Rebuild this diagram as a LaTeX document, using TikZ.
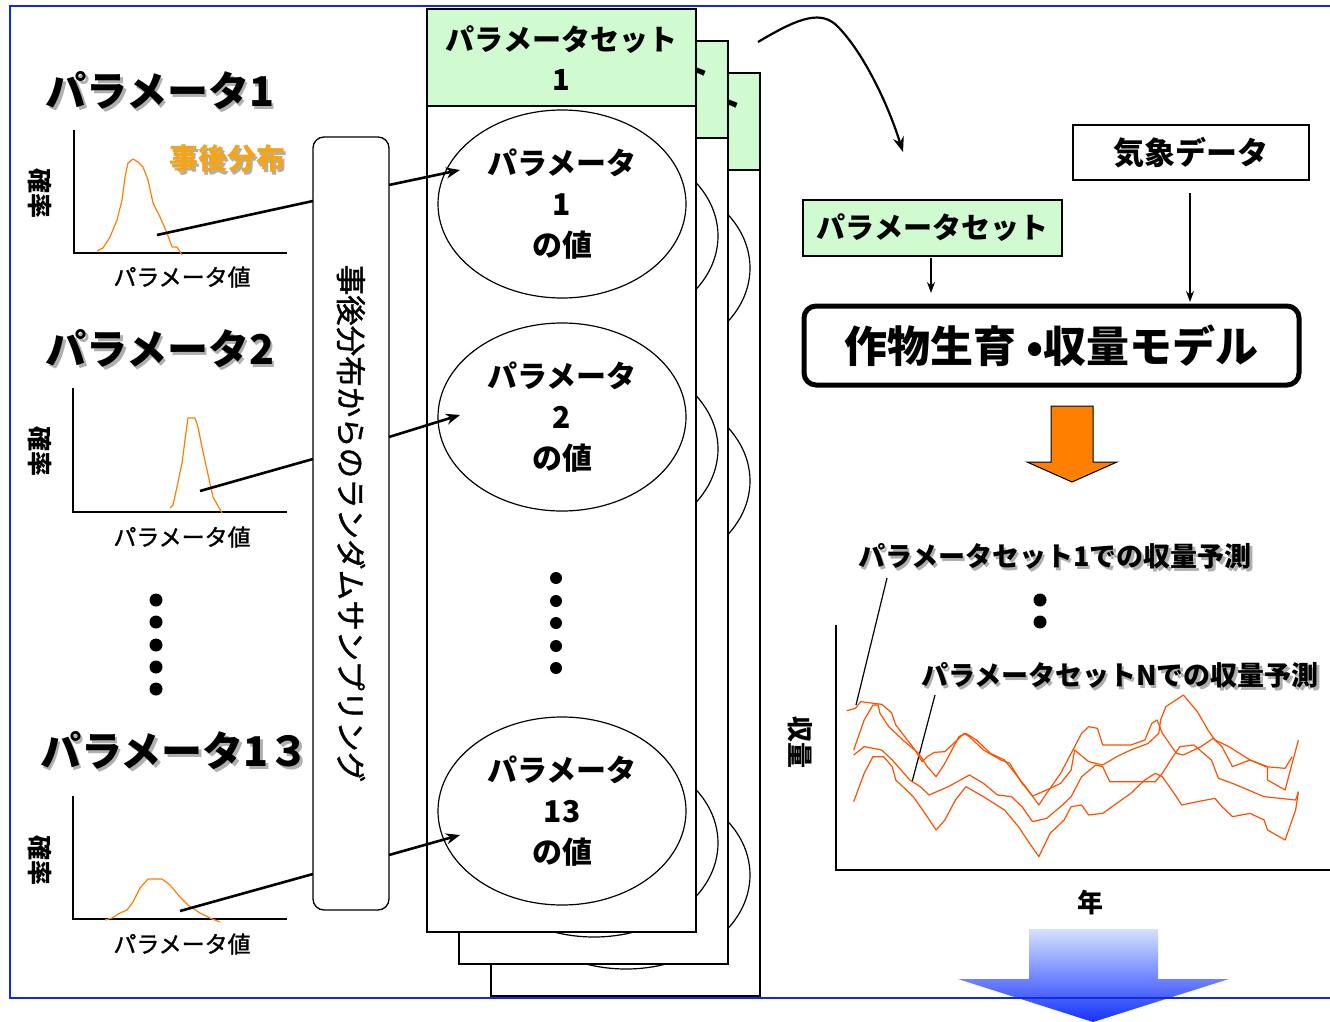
\documentclass[tikz,border=0pt]{standalone}
\usepackage{fontspec}
\setmainfont{Noto Sans CJK JP}
\newfontfamily\medfont{Noto Sans CJK JP}[FakeBold=1.3]
\usetikzlibrary{shapes.geometric,arrows.meta,calc}
\definecolor{frameblue}{RGB}{20,40,220}
\definecolor{hdrgreen}{RGB}{208,250,208}
\definecolor{distorange}{RGB}{255,128,0}
\definecolor{yieldorange}{RGB}{255,80,0}
\definecolor{labelorange}{RGB}{245,165,20}
\definecolor{shadowgray}{RGB}{175,175,175}
\definecolor{arrowtop}{RGB}{215,225,255}
\definecolor{arrowbot}{RGB}{20,50,255}
\newcommand\shtext[2]{\makebox[0pt][l]{\hspace{2.5pt}\raisebox{-2.5pt}{\textcolor{shadowgray}{#2}}}\textcolor{#1}{#2}}
\begin{document}
\begin{tikzpicture}[x=1pt,y=-1pt,
  every node/.style={inner sep=0pt,outer sep=0pt},
  bigtitle/.style={font=\fontsize{41}{48}\selectfont\bfseries},
  axislabel/.style={font=\fontsize{23}{26}\selectfont\medfont},
  problabel/.style={font=\fontsize{25}{28}\selectfont\bfseries,rotate=-90},
  axisline/.style={line width=1.3pt},
  distcurve/.style={distorange,line width=1.2pt,line join=round},
  leader/.style={line width=2.6pt},
  samparrow/.style={line width=2.6pt,-{Stealth[length=14pt,width=11pt]}},
  sheet/.style={draw,line width=1.4pt,fill=white},
  hdr/.style={draw,line width=1.4pt,fill=hdrgreen},
  hdrtext/.style={font=\fontsize{29}{40}\selectfont\bfseries},
  valell/.style={ellipse,draw,line width=1.2pt,fill=white,minimum width=248pt,minimum height=188pt,align=center,font=\fontsize{30}{41}\selectfont\bfseries},
  bigdot/.style={circle,fill=black,minimum size=13pt},
  plainbox/.style={draw,line width=1.2pt,fill=white},
  smallarrow/.style={line width=1.5pt,-{Stealth[length=11pt,width=8pt]}},
  yieldcurve/.style={yieldorange,line width=1.2pt,line join=round},
]
\useasboundingbox (0,0) rectangle (1330,1022);
\fill[white] (0,0) rectangle (1330,1022);

% ---------- left: parameter distributions ----------
\node[bigtitle] (t1) at (160,92) {\shtext{black}{パラメータ1}};
\draw[axisline] (74,130) -- (74,253) -- (287,253);
\draw[distcurve] (97,251) -- (103,248) -- (110,237) -- (117,220) -- (122,200) -- (125,177) -- (128,163) -- (133,159) -- (138,162) -- (143,167) -- (148,180) -- (153,203) -- (160,217) -- (167,233) -- (172,247) -- (177,247) -- (182,255);
\node[problabel] (p1) at (40,193) {確率};
\node[axislabel] (x1) at (182,277) {パラメータ値};
\node[font=\fontsize{29}{32}\selectfont\bfseries] (post) at (227,160) {\shtext{labelorange}{事後分布}};

\node[bigtitle] (t2) at (160,350) {\shtext{black}{パラメータ2}};
\draw[axisline] (73,388) -- (73,512) -- (287,512);
\draw[distcurve] (170,508) -- (173,505) -- (177,487) -- (182,463) -- (185,440) -- (188,418) -- (195,418) -- (198,427) -- (202,447) -- (207,470) -- (213,497) -- (222,513);
\node[problabel] (p2) at (40,451) {確率};
\node[axislabel] (x2) at (182,537) {パラメータ値};

\foreach \yy/\nm in {600/d1,622/d2,645/d3,667/d4,689/d5}
  \node[bigdot] (l\nm) at (156,\yy) {};

\node[bigtitle] (t3) at (175,752) {\shtext{black}{パラメータ1３}};
\draw[axisline] (73,796) -- (73,919) -- (287,919);
\draw[distcurve] (105,920) -- (112,918) -- (120,913) -- (127,910) -- (133,902) -- (140,888) -- (148,879) -- (162,879) -- (170,885) -- (180,897) -- (188,905) -- (200,913) -- (210,918) -- (220,922);
\node[problabel] (p3) at (40,860) {確率};
\node[axislabel] (x3) at (182,944) {パラメータ値};

% ---------- sampling box ----------
\node[draw,line width=1.3pt,fill=white,rounded corners=11pt,rotate=-90,minimum width=773pt,minimum height=76pt,font=\fontsize{30.5}{34}\selectfont\medfont] (samp) at (351,523.5) {事後分布からのランダムサンプリング};

\coordinate (c1a) at (157,235); \coordinate (c1b) at (313,201);
\coordinate (c2a) at (200,491); \coordinate (c2b) at (313,459);
\coordinate (c3a) at (180,911); \coordinate (c3b) at (313,874);
\draw[leader] (c1a) -- (c1b);
\draw[leader] (c2a) -- (c2b);
\draw[leader] (c3a) -- (c3b);

% ---------- stacked parameter sets (back sheets) ----------
\foreach \i in {2,1}{
  \pgfmathsetmacro{\d}{32*\i}
  \draw[sheet] (427+\d,9+\d) rectangle (696+\d,932+\d);
  \draw[hdr] (427+\d,9+\d) rectangle (696+\d,106+\d);
  \node[hdrtext] (hd\i) at (663+\d,40+\d) {ト};
  \node[valell] (ea\i) at (562+\d,204+\d) {};
  \node[valell] (eb\i) at (562+\d,417+\d) {};
  \node[valell] (ec\i) at (562+\d,811+\d) {};
}
% ---------- front sheet ----------
\draw[sheet] (427,9) rectangle (696,932);
\draw[hdr] (427,9) rectangle (696,106);
\node[hdrtext,align=center] (hd0) at (561.5,58) {パラメータセット\\1};
\node[valell] (ea0) at (562,204) {パラメータ\\1\\の値};
\node[valell] (eb0) at (562,417) {パラメータ\\2\\の値};
\node[valell] (ec0) at (562,811) {パラメータ\\13\\の値};
\foreach \yy/\nm in {578/m1,601/m2,623/m3,646/m4,668/m5}
  \node[bigdot,minimum size=12pt] (\nm) at (556,\yy) {};

\coordinate (s1) at (389,185); \coordinate (e1) at (460,170);
\coordinate (s2) at (389,437); \coordinate (e2) at (460,415);
\coordinate (s3) at (389,855); \coordinate (e3) at (460,835);
\draw[samparrow] (s1) -- (e1);
\draw[samparrow] (s2) -- (e2);
\draw[samparrow] (s3) -- (e3);

% ---------- curved arrow to right side ----------
\coordinate (cs) at (758,42);
\coordinate (ce) at (903,152);
\draw[line width=2.2pt,-{Stealth[length=15pt,width=11pt]}] (cs) .. controls (795,20) and (818,10) .. (835,24) .. controls (858,45) and (885,95) .. (ce);

% ---------- model part ----------
\node[plainbox,minimum width=236pt,minimum height=55pt,font=\fontsize{31}{34}\selectfont\bfseries] (wx) at (1191,152.5) {気象データ};
\node[draw,line width=1.2pt,fill=hdrgreen,minimum width=259pt,minimum height=56pt,font=\fontsize{29}{32}\selectfont\bfseries] (ps) at (932.5,228) {パラメータセット};
\node[draw,line width=5pt,fill=white,rounded corners=12pt,minimum width=495pt,minimum height=79pt,font=\fontsize{43}{48}\selectfont\bfseries] (model) at (1051.5,345.5) {作物生育 •収量モデル};
\coordinate (pa) at (931,258); \coordinate (pb) at (931,293);
\coordinate (wa) at (1190,193); \coordinate (wb) at (1190,302);
\draw[smallarrow] (pa) -- (pb);
\draw[smallarrow] (wa) -- (wb);

\draw[line width=1pt,fill=distorange] (1051,406) -- (1093,406) -- (1093,462) -- (1117,462) -- (1072,482) -- (1027,462) -- (1051,462) -- cycle;

% ---------- yield chart ----------
\draw[axisline] (836,625) -- (836,870) -- (1335,870);
\node[font=\fontsize{26}{30}\selectfont\bfseries,rotate=-90] (ylab) at (800,742) {収量};
\node[font=\fontsize{26}{30}\selectfont\bfseries] (xlab) at (1090,903) {年};
\node[font=\fontsize{27}{30}\selectfont\bfseries] (lab1) at (1055,558) {\shtext{black}{パラメータセット1での収量予測}};
\node[font=\fontsize{27}{30}\selectfont\bfseries] (labN) at (1120,677) {\shtext{black}{パラメータセットNでの収量予測}};
\node[bigdot] (rd1) at (1040,600) {};
\node[bigdot] (rd2) at (1040,622) {};
\coordinate (la1) at (887,578); \coordinate (lb1) at (856,705);
\coordinate (laN) at (935,695); \coordinate (lbN) at (912,782);
\draw[line width=1.2pt] (la1) -- (lb1);
\draw[line width=1.2pt] (laN) -- (lbN);

\begin{scope}[shift={(780,520)},x=0.35075pt,y=-0.33333pt]
\draw[yieldcurve] (190,572) -- (215,565) -- (230,545) -- (290,553) -- (318,578) -- (330,615) -- (385,690) -- (405,725) -- (420,710) -- (440,697) -- (470,695) -- (500,665) -- (525,640) -- (540,650) -- (580,690) -- (630,720) -- (655,730) -- (690,790) -- (720,828) -- (760,810) -- (800,790) -- (830,750) -- (840,690) -- (880,725) -- (920,735) -- (960,710) -- (1000,690) -- (1050,670) -- (1080,640) -- (1085,600) -- (1100,560) -- (1150,525) -- (1190,575) -- (1220,630) -- (1240,660) -- (1280,680) -- (1310,700) -- (1340,720) -- (1390,740) -- (1390,780) -- (1440,810) -- (1460,730) -- (1478,660);
\draw[yieldcurve] (210,690) -- (240,600) -- (265,555) -- (280,555) -- (285,580) -- (310,620) -- (350,660) -- (395,700) -- (420,740) -- (445,770) -- (470,730) -- (510,650) -- (530,640) -- (560,660) -- (600,700) -- (640,720) -- (670,760) -- (700,800) -- (738,855) -- (760,820) -- (800,760) -- (830,700) -- (860,640) -- (880,620) -- (905,625) -- (920,675) -- (1000,675) -- (1040,660) -- (1060,610) -- (1075,600) -- (1090,640) -- (1130,700) -- (1150,705) -- (1200,680) -- (1235,655) -- (1260,680) -- (1290,740) -- (1340,720) -- (1385,740) -- (1440,745) -- (1460,710);
\draw[yieldcurve] (210,705) -- (240,680) -- (290,690) -- (320,720) -- (370,780) -- (400,800) -- (425,825) -- (480,800) -- (540,765) -- (580,790) -- (620,825) -- (660,830) -- (690,860) -- (720,905) -- (760,895) -- (800,860) -- (830,830) -- (860,770) -- (900,735) -- (920,740) -- (940,785) -- (1070,785) -- (1090,760) -- (1120,710) -- (1140,680) -- (1180,675) -- (1230,720) -- (1250,775) -- (1290,790) -- (1380,830) -- (1470,840) -- (1478,815);
\draw[yieldcurve] (210,845) -- (240,760) -- (265,710) -- (295,710) -- (320,740) -- (330,780) -- (380,830) -- (410,875) -- (445,930) -- (470,900) -- (500,840) -- (530,800) -- (580,830) -- (640,870) -- (680,920) -- (705,960) -- (738,1010) -- (770,940) -- (810,900) -- (830,860) -- (860,855) -- (880,885) -- (920,880) -- (960,850) -- (1000,820) -- (1040,780) -- (1070,760) -- (1090,770) -- (1130,830) -- (1145,855) -- (1190,845) -- (1240,835) -- (1260,860) -- (1290,890) -- (1340,880) -- (1380,900) -- (1390,930) -- (1440,960) -- (1470,870) -- (1478,815);
\end{scope}

% ---------- bottom gradient arrow and frame ----------
\shade[top color=arrowtop,bottom color=arrowbot] (1029,929) -- (1158,929) -- (1158,979) -- (1229,979) -- (1093,1022) -- (958,979) -- (1029,979) -- cycle;
\draw[frameblue,line width=2pt] (1330,6) -- (10,6) -- (10,998) -- (1330,998);
\end{tikzpicture}
\end{document}
